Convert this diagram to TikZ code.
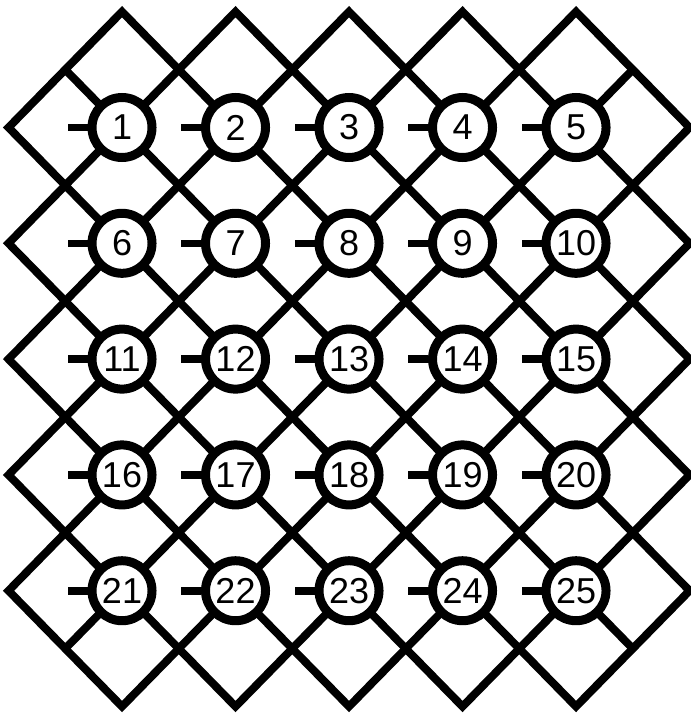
\documentclass[tikz,border=0pt]{standalone}
\usepackage{fontspec}
\setmainfont{Liberation Sans}
\usepackage{tikz}

\begin{document}
\begin{tikzpicture}[x=28.375pt,y=-28.95pt,
  wire/.style={line width=4pt,line join=miter},
  ring/.style={circle,draw,fill=white,line width=4.5pt,minimum size=30pt,
    inner sep=0pt,font=\fontsize{18}{20}\selectfont},
  tick/.style={line width=3.8pt}]
\useasboundingbox (-0.15,-0.202) rectangle (12.009,12.112);
% the five tilted frames
\foreach \s in {2,4,...,10}
  \draw[wire] (\s,0) -- (0,\s) -- ({12-\s},12) -- (12,{12-\s}) -- cycle;
% the two long diagonals
\draw[wire] (1,1) -- (11,11);
\draw[wire] (11,1) -- (1,11);
% numbered rings
\foreach \r in {0,...,4}
  \foreach \c in {0,...,4} {
    \pgfmathtruncatemacro{\k}{5*\r+\c+1}
    \node[ring] (n\k) at ({2+2*\c},{2+2*\r}) {\k};
    \draw[tick] (n\k.west) -- ++(-10pt,0);
  }
\end{tikzpicture}
\end{document}
